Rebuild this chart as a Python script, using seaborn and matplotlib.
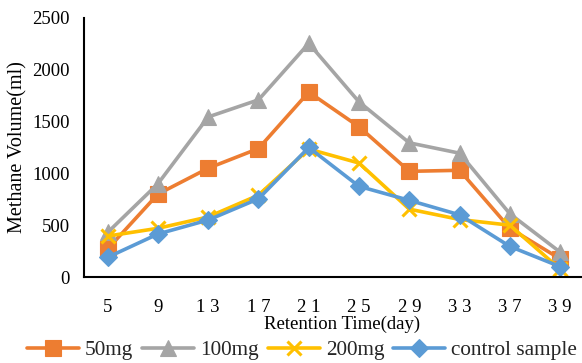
import matplotlib
matplotlib.use("Agg")
import matplotlib.pyplot as plt
import seaborn as sns
import pandas as pd

days = ["5", "9", "1 3", "1 7", "2 1", "2 5", "2 9", "3 3", "3 7", "3 9"]
mg50 = [270, 800, 1050, 1240, 1785, 1450, 1020, 1030, 470, 175]
mg100 = [430, 900, 1545, 1710, 2255, 1690, 1295, 1195, 610, 240]
mg200 = [395, 470, 580, 790, 1235, 1100, 655, 555, 500, 75]
control = [190, 415, 550, 755, 1250, 875, 740, 600, 295, 100]

series_names = ["50mg", "100mg", "200mg", "control sample"]
colors = ["#ED7D31", "#A5A5A5", "#FFC000", "#5B9BD5"]
markers = ["s", "^", "x", "D"]
msizes = [11, 11, 10, 9]

sns.set_theme(style="white")
plt.rcParams["font.family"] = ["Liberation Serif", "DejaVu Serif"]

rows = []
for name, vals in zip(series_names, [mg50, mg100, mg200, control]):
    for i, v in enumerate(vals):
        rows.append({"pos": i, "day": days[i], "value": v, "series": name})
df = pd.DataFrame(rows)

fig = plt.figure(figsize=(5.82, 3.63), dpi=100)
ax = fig.add_axes([84 / 582, 1 - 277 / 363, 1 - 84 / 582 + 0.01, (277 - 18) / 363])

for name, c, m, ms in zip(series_names, colors, markers, msizes):
    sub = df[df["series"] == name]
    sns.lineplot(data=sub, x="pos", y="value", ax=ax, color=c, linewidth=2.6,
                 marker=m, markersize=ms, markeredgecolor=c,
                 markeredgewidth=2.2 if m == "x" else 0.8, label=name, legend=False)

ax.set_xlim(-0.47, 9.55)
ax.set_ylim(0, 2500)
ax.set_yticks([0, 500, 1000, 1500, 2000, 2500])
ax.set_xticks(range(len(days)))
ax.set_xticklabels(days)
ax.tick_params(axis="both", labelsize=13.5, length=0, colors="black")
ax.tick_params(axis="x", pad=16)
ax.tick_params(axis="y", pad=10)
for s in ["top", "right"]:
    ax.spines[s].set_visible(False)
for s in ["left", "bottom"]:
    ax.spines[s].set_color("black")
    ax.spines[s].set_linewidth(1.5)

ax.set_ylabel("Methane Volume(ml)", fontsize=14.5, color="black", labelpad=4)
ax.set_xlabel("Retention Time(day)", fontsize=13.5, color="black", labelpad=0)
ax.xaxis.set_label_coords(0.5 + 0.012, -0.148)

lines = ax.get_lines()[:4]
fig.legend(lines, series_names, loc="center", bbox_to_anchor=(302 / 582, 1 - 350 / 363),
           ncol=4, frameon=False, fontsize=15.3, handlelength=2.45, handletextpad=0.28,
           columnspacing=0.42, borderaxespad=0, borderpad=0)

fig.savefig("out.png", dpi=100)
